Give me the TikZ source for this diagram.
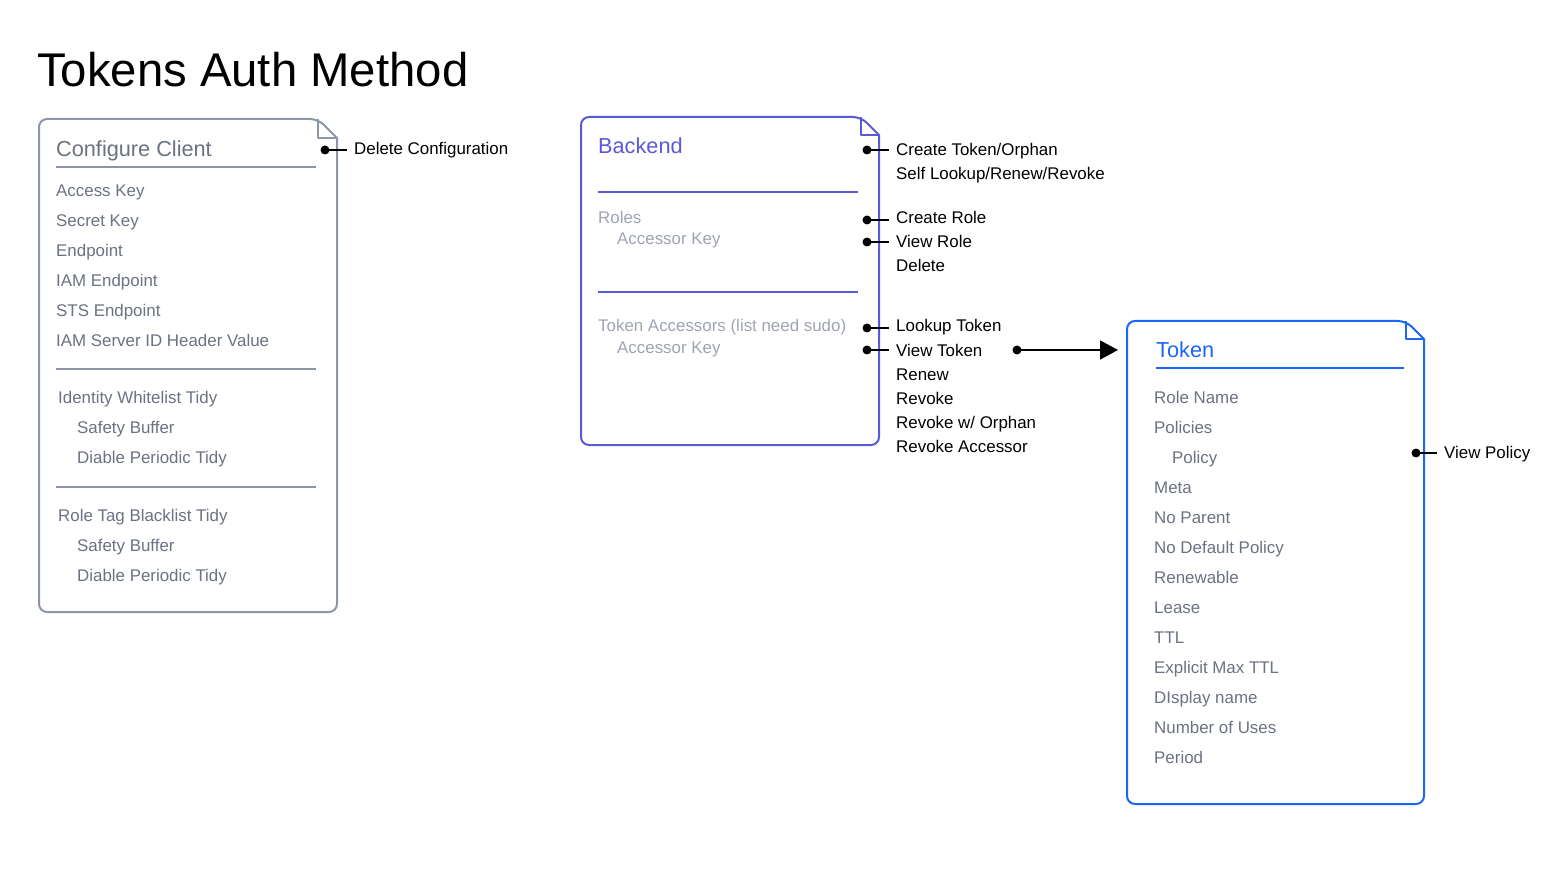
\documentclass[tikz,border=0pt]{standalone}
\usepackage{fontspec}
\setmainfont{Liberation Sans}
\usetikzlibrary{arrows.meta}
\definecolor{cgrey}{RGB}{140,150,166}
\definecolor{tgrey}{RGB}{107,114,128}
\definecolor{lgrey}{RGB}{158,164,176}
\definecolor{indigo}{RGB}{90,90,214}
\definecolor{tblue}{RGB}{26,102,245}
\newcommand{\foldbox}[6]{% color, L, T, R, B, fold
  \draw[#1, line width=2pt, rounded corners=8pt] (#2,#3) -- (#4-#6,#3) [sharp corners] -- (#4,#3+#6) [rounded corners=8pt] -- (#4,#5) -- (#2,#5) -- cycle;
  \draw[#1, line width=2pt, line join=round] (#4-#6,#3) -- (#4-#6,#3+#6) -- (#4,#3+#6);
}
\tikzset{
  item/.style={anchor=base west, inner sep=0pt, font=\fontsize{16.9}{20}\selectfont},
  gitem/.style={item, text=tgrey},
  litem/.style={item, text=lgrey},
  boxtitle/.style={anchor=base west, inner sep=0pt, font=\fontsize{21.7}{25}\selectfont},
  lbl/.style={anchor=base west, inner xsep=7pt, inner ysep=0pt, font=\fontsize{16.9}{20}\selectfont, text=black},
  dotn/.style={circle, fill=black, inner sep=0pt, minimum size=9pt},
  stub/.style={line width=1.6pt, black},
  rule/.style={line width=2pt},
}
\begin{document}
\begin{tikzpicture}[x=1pt,y=-1pt]
\useasboundingbox (0,0) rectangle (1560,874);
\node[anchor=base west, inner sep=0pt, font=\fontsize{47.3}{52}\selectfont] (title) at (37,87) {Tokens Auth Method};

% ---------------- Configure Client
\foldbox{cgrey}{39}{119}{337}{612}{19}
\node[boxtitle, text=tgrey] (cctitle) at (56,157) {Configure Client};
\draw[rule, cgrey] (56,167) -- (316,167);
\node[gitem] (ak) at (56,197) {Access Key};
\node[gitem] (sk) at (56,227) {Secret Key};
\node[gitem] (ep) at (56,257) {Endpoint};
\node[gitem] (iam) at (56,287) {IAM Endpoint};
\node[gitem] (sts) at (56,317) {STS Endpoint};
\node[gitem] (hdr) at (56,347) {IAM Server ID Header Value};
\draw[rule, cgrey] (56,369) -- (316,369);
\node[gitem] (iwt) at (58,403) {Identity Whitelist Tidy};
\node[gitem] (sb1) at (77,433) {Safety Buffer};
\node[gitem] (dpt1) at (77,463) {Diable Periodic Tidy};
\draw[rule, cgrey] (56,487) -- (316,487);
\node[gitem] (rtb) at (58,521) {Role Tag Blacklist Tidy};
\node[gitem] (sb2) at (77,551) {Safety Buffer};
\node[gitem] (dpt2) at (77,581) {Diable Periodic Tidy};

\node[dotn] (d0) at (325,150) {};
\node[lbl] (delcfg) at (347,155) {Delete Configuration};
\draw[stub] (d0.center) -- (d0 -| delcfg.west);

% ---------------- Backend
\foldbox{indigo}{581}{117}{879}{445}{18}
\node[boxtitle, text=indigo] (betitle) at (598,154) {Backend};
\draw[rule, indigo] (598,192) -- (858,192);
\node[litem] (roles) at (598,224) {Roles};
\node[litem] (ak2) at (617,245) {Accessor Key};
\draw[rule, indigo] (598,292) -- (858,292);
\node[litem] (tacc) at (598,332) {Token Accessors (list need sudo)};
\node[litem] (ak3) at (617,353) {Accessor Key};

\node[lbl] (ct) at (889,156) {Create Token/Orphan};
\node[lbl] (sl) at (889,180) {Self Lookup/Renew/Revoke};
\node[lbl] (cr) at (889,224) {Create Role};
\node[lbl] (vr) at (889,248) {View Role};
\node[lbl] (del) at (889,272) {Delete};
\node[lbl] (lt) at (889,332) {Lookup Token};
\node[lbl] (vt) at (889,356) {View Token};
\node[lbl] (rn) at (889,380) {Renew};
\node[lbl] (rv) at (889,404) {Revoke};
\node[lbl] (rvo) at (889,428) {Revoke w/ Orphan};
\node[lbl] (rva) at (889,452) {Revoke Accessor};

\node[dotn] (d1) at (867,150) {};
\node[dotn] (d2) at (867,220) {};
\node[dotn] (d3) at (867,242) {};
\node[dotn] (d4) at (867,328) {};
\node[dotn] (d5) at (867,350) {};
\foreach \d/\l in {d1/ct,d2/cr,d3/vr,d4/lt,d5/vt}{
  \draw[stub] (\d.center) -- (\d -| \l.west);
}

% arrow from View Token to Token
\node[dotn] (d6) at (1017,350) {};
\coordinate (tokin) at (1118,350);
\draw[stub, -{Triangle[length=18pt,width=19pt]}] (d6.center) -- (tokin);

% ---------------- Token
\foldbox{tblue}{1127}{321}{1424}{804}{18}
\node[boxtitle, text=tblue] (tktitle) at (1156,358) {Token};
\draw[rule, tblue] (1156,368) -- (1404,368);
\node[gitem] (rname) at (1154,403) {Role Name};
\node[gitem] (pol) at (1154,433) {Policies};
\node[gitem] (pol1) at (1172,463) {Policy};
\node[gitem] (meta) at (1154,493) {Meta};
\node[gitem] (np) at (1154,523) {No Parent};
\node[gitem] (ndp) at (1154,553) {No Default Policy};
\node[gitem] (ren) at (1154,583) {Renewable};
\node[gitem] (lease) at (1154,613) {Lease};
\node[gitem] (ttl) at (1154,643) {TTL};
\node[gitem] (emt) at (1154,673) {Explicit Max TTL};
\node[gitem] (dn) at (1154,703) {DIsplay name};
\node[gitem] (nou) at (1154,733) {Number of Uses};
\node[gitem] (per) at (1154,763) {Period};

\node[dotn] (d7) at (1416,453) {};
\node[lbl] (vp) at (1437,458) {View Policy};
\draw[stub] (d7.center) -- (d7 -| vp.west);
\end{tikzpicture}
\end{document}
